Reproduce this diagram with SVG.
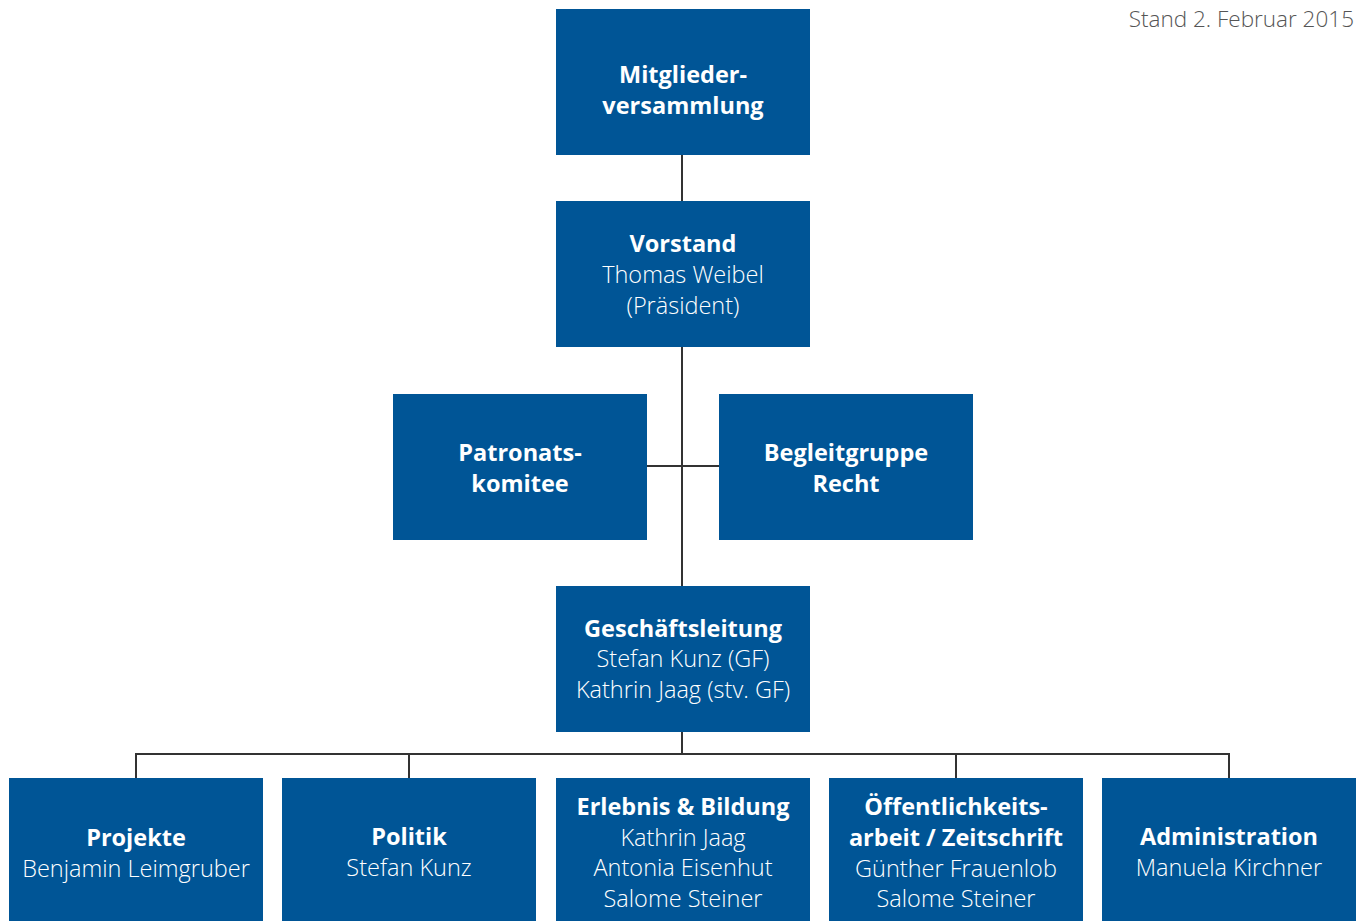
<svg xmlns="http://www.w3.org/2000/svg" width="1359" height="921" viewBox="0 0 1359 921">
<style>
.box{fill:#005596}
.t{font-family:"Open Sans","Noto Sans",sans-serif;font-size:23.5px;fill:#fff;text-anchor:middle}
.b{font-weight:bold}
.l{font-weight:300}
.c{stroke:#333;stroke-width:2;fill:none}
</style>
<rect width="1359" height="921" fill="#fff"/>
<text x="1354" y="27" style="font-family:'Open Sans','Noto Sans',sans-serif;font-size:22.5px;fill:#555;text-anchor:end;font-weight:300">Stand 2. Februar 2015</text>
<g id="connectors">
<path class="c" d="M682 155V586M646 466H719M682 732V754M136 778V754H1229V778M409 754V778M956 754V778"/>
</g>
<g id="mitglieder"><rect class="box" x="556" y="9" width="254" height="146"/>
<text class="t b" x="683" y="83">Mitglieder-</text><text class="t b" x="683" y="114">versammlung</text></g>
<g id="vorstand"><rect class="box" x="556" y="201" width="254" height="146"/>
<text class="t b" x="683" y="252">Vorstand</text><text class="t l" x="683" y="283">Thomas Weibel</text><text class="t l" x="683" y="314">(Präsident)</text></g>
<g id="patronat"><rect class="box" x="393" y="394" width="254" height="146"/>
<text class="t b" x="520" y="461">Patronats-</text><text class="t b" x="520" y="492">komitee</text></g>
<g id="begleitgruppe"><rect class="box" x="719" y="394" width="254" height="146"/>
<text class="t b" x="846" y="461">Begleitgruppe</text><text class="t b" x="846" y="492">Recht</text></g>
<g id="geschaeftsleitung"><rect class="box" x="556" y="586" width="254" height="146"/>
<text class="t b" x="683" y="637">Geschäftsleitung</text><text class="t l" x="683" y="667">Stefan Kunz (GF)</text><text class="t l" x="683" y="698">Kathrin Jaag (stv. GF)</text></g>
<g id="projekte"><rect class="box" x="9" y="778" width="254" height="143"/>
<text class="t b" x="136" y="846">Projekte</text><text class="t l" x="136" y="877">Benjamin Leimgruber</text></g>
<g id="politik"><rect class="box" x="282" y="778" width="254" height="143"/>
<text class="t b" x="409" y="845">Politik</text><text class="t l" x="409" y="876">Stefan Kunz</text></g>
<g id="erlebnis"><rect class="box" x="556" y="778" width="254" height="143"/>
<text class="t b" x="683" y="815">Erlebnis &amp; Bildung</text><text class="t l" x="683" y="846">Kathrin Jaag</text><text class="t l" x="683" y="876">Antonia Eisenhut</text><text class="t l" x="683" y="907">Salome Steiner</text></g>
<g id="oeffentlichkeit"><rect class="box" x="829" y="778" width="254" height="143"/>
<text class="t b" x="956" y="815">Öffentlichkeits-</text><text class="t b" x="956" y="846">arbeit / Zeitschrift</text><text class="t l" x="956" y="877">Günther Frauenlob</text><text class="t l" x="956" y="907">Salome Steiner</text></g>
<g id="administration"><rect class="box" x="1102" y="778" width="254" height="143"/>
<text class="t b" x="1229" y="845">Administration</text><text class="t l" x="1229" y="876">Manuela Kirchner</text></g>
</svg>
